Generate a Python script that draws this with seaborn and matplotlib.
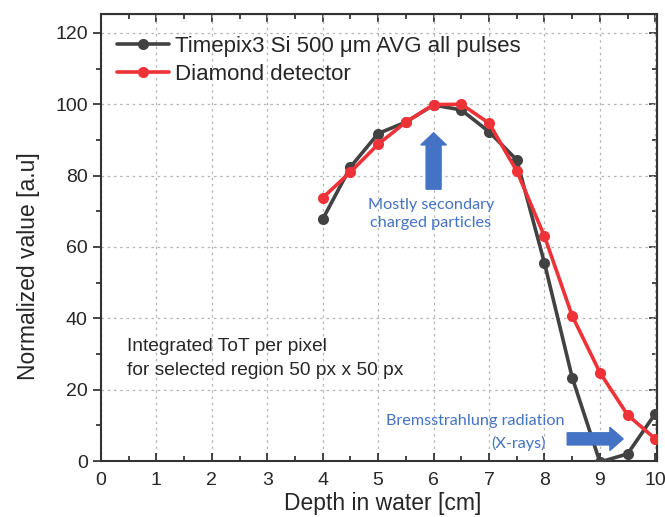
import numpy as np
import pandas as pd
import matplotlib.pyplot as plt
import seaborn as sns

# depth in water [cm]
depth = [4, 4.5, 5, 5.5, 6, 6.5, 7, 7.5, 8, 8.5, 9, 9.5, 10]
timepix = [67.8, 82.4, 91.8, 95.0, 99.8, 98.4, 92.3, 84.4, 55.5, 23.4, -0.3, 2.0, 13.3]
diamond = [73.8, 81.0, 88.8, 95.0, 99.9, 100.0, 94.7, 81.3, 63.0, 40.7, 24.8, 12.9, 6.2]

label_tpx = "Timepix3 Si 500 \u03bcm AVG all pulses"
label_dia = "Diamond detector"

df = pd.concat([
    pd.DataFrame({"depth": depth, "value": timepix, "detector": label_tpx}),
    pd.DataFrame({"depth": depth, "value": diamond, "detector": label_dia}),
])

sns.set_style("ticks")
plt.rcParams["font.family"] = ["Liberation Sans", "DejaVu Sans"]

fig = plt.figure(figsize=(6.65, 5.17), dpi=100)
ax = fig.add_axes([101 / 665, 1 - 461 / 517, 556 / 665, 447 / 517])

pal = {label_tpx: "#424242", label_dia: "#ee3237"}
sns.lineplot(data=df, x="depth", y="value", hue="detector", palette=pal,
             marker="o", markersize=8, markeredgewidth=0, linewidth=2.6,
             ax=ax, zorder=3)

ax.set_xlim(0, 10.03)
ax.set_ylim(0, 125.3)
ax.set_xticks(range(0, 11))
ax.set_yticks(range(0, 121, 20))
ax.set_xticks(np.arange(0.5, 10, 1), minor=True)
ax.set_yticks(range(10, 121, 20), minor=True)
ax.grid(True, which="major", color="#b5b5b5", linestyle=(0, (2, 3)), linewidth=0.9)
ax.tick_params(axis="x", which="both", direction="in", labelsize=14, pad=8)
ax.tick_params(axis="y", which="both", direction="out", labelsize=14)
ax.tick_params(which="major", length=6, width=1.2)
ax.tick_params(which="minor", length=3.5, width=1.2)
for s in ax.spines.values():
    s.set_visible(True)
    s.set_linewidth(1.5)
    s.set_color("#333333")

# inward ticks on top and right
top = ax.secondary_xaxis("top")
top.set_xticks(range(0, 11))
top.set_xticks(np.arange(0.5, 10, 1), minor=True)
top.tick_params(which="both", direction="in", labeltop=False, width=1.2)
top.tick_params(which="major", length=6)
top.tick_params(which="minor", length=3.5)
right = ax.secondary_yaxis("right")
right.set_yticks(range(0, 121, 20))
right.set_yticks(range(10, 121, 20), minor=True)
right.tick_params(which="both", direction="in", labelright=False, width=1.2)
right.tick_params(which="major", length=6)
right.tick_params(which="minor", length=3.5)

ax.set_xlabel("Depth in water [cm]", fontsize=16.5)
ax.set_ylabel("Normalized value [a.u]", fontsize=16.5)
ax.xaxis.set_label_coords(0.506, -0.07)
ax.yaxis.set_label_coords(-0.11, 0.435)

leg = ax.legend(loc="upper left", bbox_to_anchor=(0.0, 0.985), frameon=False,
                fontsize=16, handlelength=2.35, handletextpad=0.27,
                labelspacing=0.31, borderaxespad=0.3)

blue = "#4472c4"
ax.text(0.47, 32.2, "Integrated ToT per pixel", fontsize=13.8, va="center")
ax.text(0.47, 25.5, "for selected region 50 px x 50 px", fontsize=13.8, va="center")

ax.arrow(6.0, 76.2, 0, 12.4, width=0.27, head_width=0.46, head_length=3.4,
         length_includes_head=False, color=blue, zorder=4)
ax.text(5.95, 69.2, "Mostly secondary\ncharged particles", fontsize=11.7, color=blue,
        ha="center", va="center", family=["Lato", "DejaVu Sans"], linespacing=1.3)

ax.arrow(8.41, 6.2, 0.77, 0, width=3.4, head_width=6.5, head_length=0.24,
         color=blue, zorder=4)
ax.text(8.37, 11.2, "Bremsstrahlung radiation", fontsize=11.7, color=blue,
        ha="right", va="center", family=["Lato", "DejaVu Sans"])
ax.text(8.02, 5.0, "(X-rays)", fontsize=11.7, color=blue,
        ha="right", va="center", family=["Lato", "DejaVu Sans"])

fig.savefig("out.png", dpi=100)
